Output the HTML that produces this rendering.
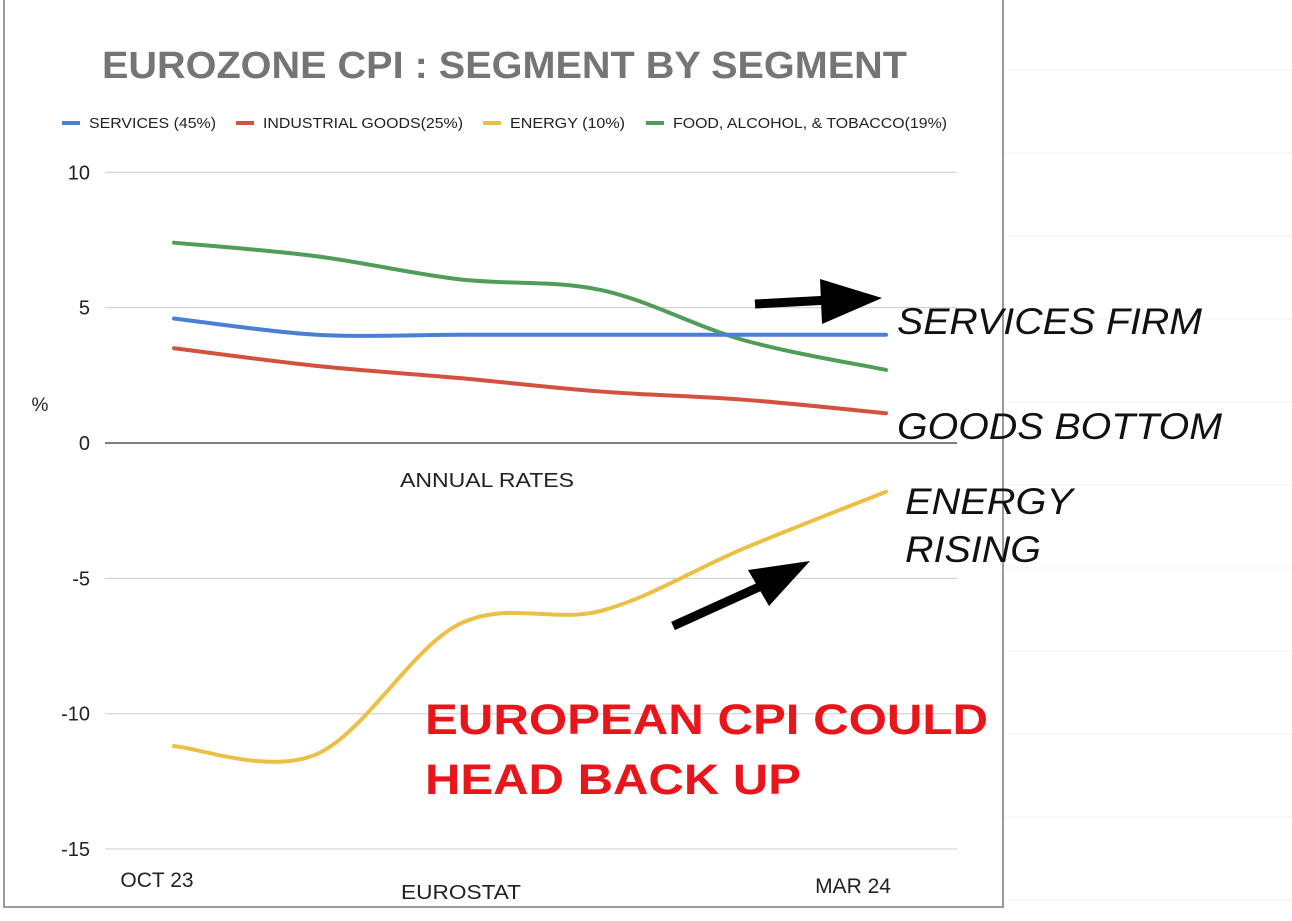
<!DOCTYPE html>
<html><head><meta charset="utf-8"><style>
html,body{margin:0;padding:0;background:#fff;}
body{width:1292px;height:916px;overflow:hidden;font-family:"Liberation Sans",sans-serif;}
</style></head><body>
<svg width="1292" height="916" xmlns="http://www.w3.org/2000/svg">
<g id="bggrid" stroke="#f0f0f0" stroke-width="1"></g>
<rect x="4" y="-1" width="999" height="908" fill="#fff" stroke="#9a9a9a" stroke-width="2"/>
<text x="102" y="78" font-size="38" font-weight="bold" fill="#757575" textLength="805" lengthAdjust="spacingAndGlyphs">EUROZONE CPI : SEGMENT BY SEGMENT</text>
<g font-size="14.5" fill="#222">
<rect x="62" y="121" width="18" height="4" fill="#4a7fd6"/><text x="89" y="128" textLength="127" lengthAdjust="spacingAndGlyphs">SERVICES (45%)</text>
<rect x="236" y="121" width="18" height="4" fill="#d4513f"/><text x="263" y="128" textLength="200" lengthAdjust="spacingAndGlyphs">INDUSTRIAL GOODS(25%)</text>
<rect x="483" y="121" width="18" height="4" fill="#eac046"/><text x="510" y="128" textLength="115" lengthAdjust="spacingAndGlyphs">ENERGY (10%)</text>
<rect x="646" y="121" width="18" height="4" fill="#4f9d58"/><text x="673" y="128" textLength="274" lengthAdjust="spacingAndGlyphs">FOOD, ALCOHOL, &amp; TOBACCO(19%)</text>
</g>
<g id="axes"></g>
<g id="series"></g>
<text x="40" y="411" font-size="19" fill="#222" text-anchor="middle">%</text>
<text x="400" y="487" font-size="20" fill="#222" textLength="174" lengthAdjust="spacingAndGlyphs">ANNUAL RATES</text>
<text x="401" y="899" font-size="20" fill="#222" textLength="120" lengthAdjust="spacingAndGlyphs">EUROSTAT</text>
<g font-size="37" font-style="italic" fill="#111">
<text x="897" y="334" textLength="305" lengthAdjust="spacingAndGlyphs">SERVICES FIRM</text>
<text x="897" y="439" textLength="325" lengthAdjust="spacingAndGlyphs">GOODS BOTTOM</text>
<text x="905" y="514" textLength="168" lengthAdjust="spacingAndGlyphs">ENERGY</text>
<text x="905" y="562" textLength="136" lengthAdjust="spacingAndGlyphs">RISING</text>
</g>
<g><line x1="755" y1="304" x2="830" y2="300" stroke="#000" stroke-width="9"/><polygon points="820,279 882,298 822,324" fill="#000"/></g>
<g><line x1="673" y1="626" x2="770" y2="582" stroke="#000" stroke-width="9"/><polygon points="748,570 810,561 769,606" fill="#000"/></g>
<text x="425" y="734" font-size="43" font-weight="bold" fill="#e8151b" textLength="563" lengthAdjust="spacingAndGlyphs">EUROPEAN CPI COULD</text>
<text x="425" y="794" font-size="43" font-weight="bold" fill="#e8151b" textLength="376" lengthAdjust="spacingAndGlyphs">HEAD BACK UP</text>
</svg>
<script>
const months=["OCT 23","NOV 23","DEC 23","JAN 24","FEB 24","MAR 24"];
const yTicks=[10,5,0,-5,-10,-15];
const services=[4.6,4.0,4.0,4.0,4.0,4.0];
const goods=[3.5,2.85,2.4,1.9,1.6,1.1];
const energy=[-11.2,-11.5,-6.7,-6.2,-3.9,-1.8];
const food=[7.4,6.9,6.05,5.65,3.8,2.7];
const NS="http://www.w3.org/2000/svg";
const X=i=>174+i*(886-174)/(months.length-1);
const Y=v=>443-v*27.07;
function mk(t,a,p){const e=document.createElementNS(NS,t);for(const k in a)e.setAttribute(k,a[k]);p.appendChild(e);return e;}
const bg=document.getElementById('bggrid');
for(let y=70;y<916;y+=83){const l=mk('line',{x1:1003,x2:1292,y1:y,y2:y},bg);}
const ax=document.getElementById('axes');
yTicks.forEach(t=>{
 const l=mk('line',{x1:105,x2:957,y1:Y(t),y2:Y(t),stroke:t===0?'#333':'#ccc','stroke-width':t===0?1.3:1},ax);
 
 
 const tx=mk('text',{x:90,y:Y(t)+7,'font-size':20,fill:'#222','text-anchor':'end'},ax);tx.textContent=t;
 
 
});
[[0,157,887],[5,853,893]].forEach(([i,cx,y])=>{
 const tx=mk('text',{x:cx,y:y,'font-size':21,fill:'#222','text-anchor':'middle'},ax);tx.textContent=months[i];
 
 
});
function path(vals){
 const p=vals.map((v,i)=>[X(i),Y(v)]);let d=`M${p[0][0]},${p[0][1]}`;
 for(let i=0;i<p.length-1;i++){const p0=p[i-1]||p[i],p1=p[i],p2=p[i+1],p3=p[i+2]||p2;
  d+=` C${p1[0]+(p2[0]-p0[0])/6},${p1[1]+(p2[1]-p0[1])/6} ${p2[0]-(p3[0]-p1[0])/6},${p2[1]-(p3[1]-p1[1])/6} ${p2[0]},${p2[1]}`;}
 return d;}
const sg=document.getElementById('series');
[[food,'#4f9d58','food-line'],[services,'#4a7fd6','services-line'],[goods,'#d4513f','goods-line'],[energy,'#eac046','energy-line']].forEach(([v,c,n])=>{
 const e=mk('path',{d:path(v),fill:'none',stroke:c,'stroke-width':4,'stroke-linecap':'round'},sg);
 
 
});
</script>
</body></html>
